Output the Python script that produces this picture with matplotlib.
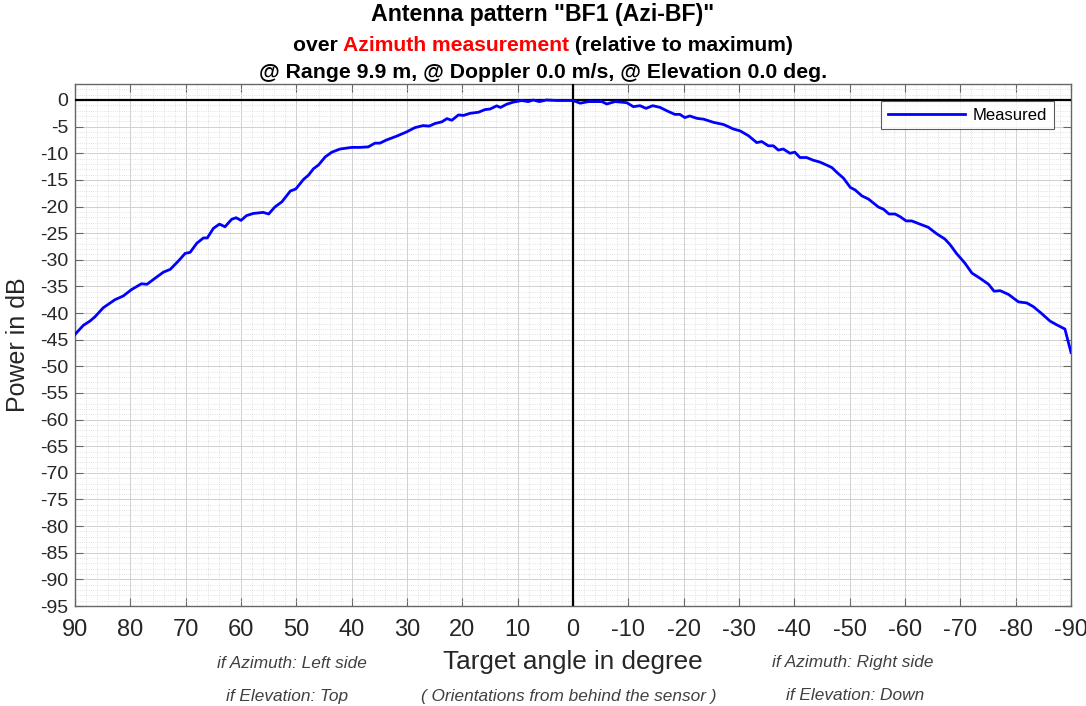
import matplotlib
matplotlib.use("Agg")
import matplotlib.pyplot as plt
from matplotlib.ticker import MultipleLocator

plt.rcParams["font.family"] = ["Liberation Sans", "DejaVu Sans"]
plt.rcParams["axes.unicode_minus"] = False

# measured pattern: angle in degree, power relative to maximum in dB
winkel = [
    90.0, 88.5, 87.3, 86.4, 84.9, 82.8, 81.3, 79.8, 78.0, 77.0,
    75.2, 74.0, 72.8, 71.3, 70.1, 69.2, 68.0, 66.8, 66.1, 65.0,
    63.9, 62.9, 61.7, 60.9, 60.0, 59.0, 57.8, 56.0, 55.0, 53.9,
    52.6, 51.1, 50.1, 48.7, 47.8, 46.9, 46.0, 44.8, 43.6, 42.1,
    40.0, 38.5, 37.0, 35.8, 34.9, 33.7, 31.9, 30.1, 28.6, 27.1,
    26.0, 24.9, 23.7, 22.8, 21.9, 20.7, 19.8, 18.6, 17.1, 15.9,
    15.0, 13.8, 13.1, 12.0, 10.8, 9.3, 8.1, 7.2, 6.1, 4.8,
    2.9, 1.1, 0.0, -1.3, -2.8, -4.0, -5.2, -6.1, -7.6, -9.7,
    -10.9, -12.1, -13.2, -14.4, -15.7, -16.9, -18.4, -19.3, -20.2, -21.1,
    -22.4, -23.6, -25.4, -27.2, -29.0, -30.2, -31.7, -33.2, -34.1, -35.3,
    -36.2, -37.1, -38.0, -39.2, -40.1, -41.0, -42.2, -43.4, -44.6, -45.8,
    -46.8, -47.7, -48.9, -50.1, -51.0, -52.2, -53.4, -55.2, -56.1, -57.1,
    -58.2, -59.1, -60.2, -61.2, -62.7, -64.2, -65.7, -67.2, -68.1, -69.3,
    -70.8, -72.1, -73.6, -75.1, -76.1, -77.2, -78.7, -80.5, -82.0, -83.2,
    -84.7, -86.2, -87.4, -88.9, -90.0,
]
leistung = [
    -44.0, -42.3, -41.5, -40.7, -39.0, -37.5, -36.8, -35.6, -34.5, -34.6,
    -33.2, -32.3, -31.8, -30.2, -28.8, -28.6, -26.9, -25.9, -25.9, -24.1,
    -23.3, -23.8, -22.4, -22.1, -22.6, -21.7, -21.3, -21.1, -21.4, -20.1,
    -19.1, -17.1, -16.7, -14.9, -14.1, -12.9, -12.2, -10.7, -9.8, -9.2,
    -8.9, -8.9, -8.8, -8.1, -8.1, -7.5, -6.8, -6.0, -5.2, -4.8,
    -4.9, -4.4, -4.1, -3.5, -3.8, -2.8, -2.9, -2.5, -2.3, -1.8,
    -1.7, -1.1, -1.4, -0.8, -0.4, -0.1, -0.3, 0.0, -0.3, 0.0,
    -0.1, -0.1, -0.1, -0.6, -0.3, -0.3, -0.3, -0.75, -0.3, -0.5,
    -1.25, -1.07, -1.57, -1.07, -1.38, -2.0, -2.7, -2.7, -3.3, -3.0,
    -3.45, -3.6, -4.2, -4.6, -5.45, -5.8, -6.7, -8.0, -7.8, -8.6,
    -8.6, -9.4, -9.2, -10.0, -9.8, -10.8, -10.8, -11.3, -11.65, -12.2,
    -12.7, -13.6, -14.7, -16.4, -16.9, -18.0, -18.6, -20.1, -20.5, -21.4,
    -21.4, -21.9, -22.7, -22.7, -23.3, -23.9, -25.1, -26.1, -27.1, -28.8,
    -30.6, -32.5, -33.5, -34.6, -35.9, -35.8, -36.5, -37.9, -38.1, -38.8,
    -40.1, -41.5, -42.2, -43.0, -47.4,
]

x_ticks = list(range(90, -91, -10))
y_ticks = list(range(0, -96, -5))

fig = plt.figure(figsize=(10.86, 7.06), dpi=100)
ax = fig.add_axes([0.0691, 0.1416, 0.9171, 0.7394])

ax.plot(winkel, leistung, color="#0000ff", lw=2, label="Measured", zorder=4)
ax.axhline(0, color="black", lw=1.6, zorder=3)
ax.axvline(0, color="black", lw=1.6, zorder=3)

ax.set_xlim(90, -90)
ax.set_ylim(-95, 3)
ax.set_xticks(x_ticks)
ax.set_xticklabels([str(v) for v in x_ticks])
ax.set_yticks(y_ticks)
ax.xaxis.set_minor_locator(MultipleLocator(2))
ax.yaxis.set_minor_locator(MultipleLocator(1))

ax.grid(which="major", color="#d0d0d0", lw=0.7, ls="-", zorder=0)
ax.grid(which="minor", color="#d8d8d8", lw=0.6, ls=":", zorder=0)
ax.set_axisbelow(True)

ax.tick_params(which="major", direction="in", top=True, right=True,
               length=6, width=0.8, color="#666666",
               labelcolor="#262626")
ax.tick_params(axis="x", which="major", labelsize=17, pad=9)
ax.tick_params(axis="y", which="major", labelsize=14, pad=5)
ax.tick_params(which="minor", length=0)
for sp in ax.spines.values():
    sp.set_color("#666666")
    sp.set_linewidth(1.0)

ax.set_xlabel("Target angle in degree", fontsize=18.8, color="#262626", labelpad=7)
ax.set_ylabel("Power in dB", fontsize=18, color="#262626", labelpad=7)

leg = ax.legend(loc="upper right", bbox_to_anchor=(1054 / 1086, 1 - 101 / 706),
                bbox_transform=fig.transFigure, fontsize=12, frameon=True,
                fancybox=False, borderpad=0.4, handlelength=4.6,
                handletextpad=0.5, borderaxespad=0)
leg.get_frame().set_edgecolor("#333333")
leg.get_frame().set_linewidth(0.8)

# title block
fig.text(0.5, 0.979, 'Antenna pattern "BF1 (Azi-BF)"', ha="center", va="center",
         fontsize=16.7, fontweight="bold")

teile = [("over ", "black"), ("Azimuth measurement", "#ff0000"),
         (" (relative to maximum)", "black")]
fig.canvas.draw()
renderer = fig.canvas.get_renderer()
texte = []
breite = 0
for s, c in teile:
    t = fig.text(0, 0.935, s, ha="left", va="center", fontsize=15.2,
                 fontweight="bold", color=c)
    w = t.get_window_extent(renderer).width
    texte.append((t, w))
    breite += w
start = (fig.bbox.width - breite) / 2
for t, w in texte:
    t.set_x(start / fig.bbox.width)
    start += w

fig.text(0.5, 0.897, "@ Range 9.9 m, @ Doppler 0.0 m/s, @ Elevation 0.0 deg.",
         ha="center", va="center", fontsize=15.3, fontweight="bold")

# orientation hints below the axis
hinweis = dict(fontsize=12.4, style="italic", color="#404040", ha="center", va="center")
fig.text(292 / 1086, 1 - 663 / 706, "if Azimuth: Left side", **hinweis)
fig.text(287 / 1086, 1 - 696 / 706, "if Elevation: Top", **hinweis)
fig.text(569 / 1086, 1 - 696 / 706, "( Orientations from behind the sensor )", **hinweis)
fig.text(853 / 1086, 1 - 663 / 706, "if Azimuth: Right side", **hinweis)
fig.text(855 / 1086, 1 - 696 / 706, "if Elevation: Down", **hinweis)

fig.savefig("out.png", dpi=100)
